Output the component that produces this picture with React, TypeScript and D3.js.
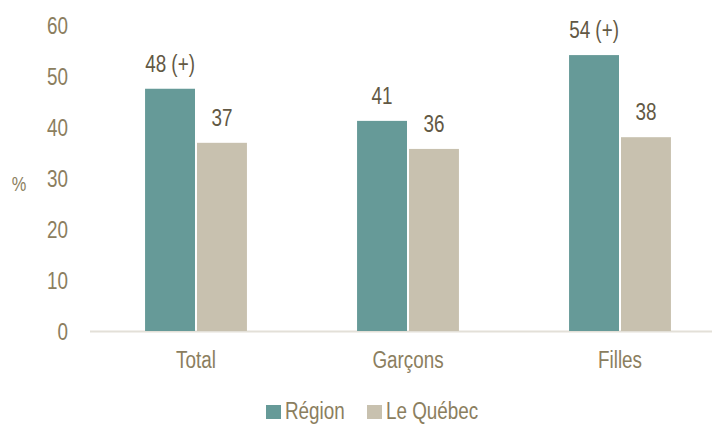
import { useEffect, useRef } from "react"
import * as d3 from "d3"

const categories = ["Total", "Garçons", "Filles"]
const series = ["Région", "Le Québec"]
const regionValues = [47.5, 41.2, 54.1]
const quebecValues = [36.9, 35.7, 38.0]
const regionLabels = ["48 (+)", "41", "54 (+)"]
const quebecLabels = ["37", "36", "38"]
const yTicks = [0, 10, 20, 30, 40, 50, 60]

const colors = ["#669a98", "#c8c1af"]
const FONT = "'Liberation Sans', Arial, sans-serif"
// no narrow font installed: squeeze Liberation Sans horizontally
const NARROW = 0.82

export default function App() {
  const ref = useRef<SVGSVGElement | null>(null)

  useEffect(() => {
    if (!ref.current) return
    const svg = d3.select(ref.current)
    svg.selectAll("*").remove()

    const width = 712
    const height = 424

    const x = d3.scaleBand().domain(categories).range([90, 726]).paddingInner(0.51).paddingOuter(0.255)
    const xs = d3.scaleBand().domain(series).range([0, x.bandwidth()])
    const y = d3.scaleLinear().domain([0, 60]).range([331, 25])

    svg.attr("width", width).attr("height", height).style("font-family", FONT)

    const place = (px: number, py: number) => `translate(${px},${py}) scale(${NARROW},1)`

    // y tick labels
    svg
      .append("g")
      .selectAll("text")
      .data(yTicks)
      .enter()
      .append("text")
      .attr("transform", (d) => place(68, y(d) + 8.5))
      .attr("text-anchor", "end")
      .attr("font-size", 23)
      .attr("fill", "#8b7e5e")
      .text((d) => d)

    svg
      .append("text")
      .attr("transform", place(19, 191))
      .attr("text-anchor", "middle")
      .attr("font-size", 20)
      .attr("fill", "#8b7e5e")
      .text("%")

    // baseline
    svg
      .append("line")
      .attr("x1", 90)
      .attr("x2", width)
      .attr("y1", y(0) + 0.5)
      .attr("y2", y(0) + 0.5)
      .attr("stroke", "#e3e0d8")
      .attr("stroke-width", 2)

    const rows = categories.map((c, i) => ({
      cat: c,
      vals: [
        { s: series[0], v: regionValues[i], label: regionLabels[i] },
        { s: series[1], v: quebecValues[i], label: quebecLabels[i] },
      ],
    }))

    const groups = svg
      .append("g")
      .selectAll("g")
      .data(rows)
      .enter()
      .append("g")
      .attr("transform", (d) => `translate(${x(d.cat)},0)`)

    groups
      .selectAll("rect")
      .data((d) => d.vals)
      .enter()
      .append("rect")
      .attr("x", (d) => (xs(d.s) as number) + 1)
      .attr("width", xs.bandwidth() - 2)
      .attr("y", (d) => y(d.v))
      .attr("height", (d) => y(0) - y(d.v))
      .attr("fill", (d, i) => colors[i])

    groups
      .selectAll("text.val")
      .data((d) => d.vals)
      .enter()
      .append("text")
      .attr("class", "val")
      .attr("transform", (d) => place((xs(d.s) as number) + xs.bandwidth() / 2, y(d.v) - 17))
      .attr("text-anchor", "middle")
      .attr("font-size", 23)
      .attr("fill", "#625844")
      .text((d) => d.label)

    // category labels
    svg
      .append("g")
      .selectAll("text")
      .data(categories)
      .enter()
      .append("text")
      .attr("transform", (d) => place((x(d) as number) + x.bandwidth() / 2, 368))
      .attr("text-anchor", "middle")
      .attr("font-size", 23)
      .attr("fill", "#8b7e5e")
      .text((d) => d)

    // legend
    const legendX = [266, 367]
    const legend = svg
      .append("g")
      .selectAll("g")
      .data(series)
      .enter()
      .append("g")
      .attr("transform", (d, i) => `translate(${legendX[i]},0)`)

    legend
      .append("rect")
      .attr("x", 0)
      .attr("y", 405)
      .attr("width", 15)
      .attr("height", 14)
      .attr("fill", (d, i) => colors[i])

    legend
      .append("text")
      .attr("transform", place(19, 419))
      .attr("font-size", 23)
      .attr("fill", "#8b7e5e")
      .text((d) => d)
  }, [])

  return (
    <div style={{ position: "absolute", left: 0, top: 0 }}>
      <svg ref={ref} style={{ display: "block" }}></svg>
    </div>
  )
}
